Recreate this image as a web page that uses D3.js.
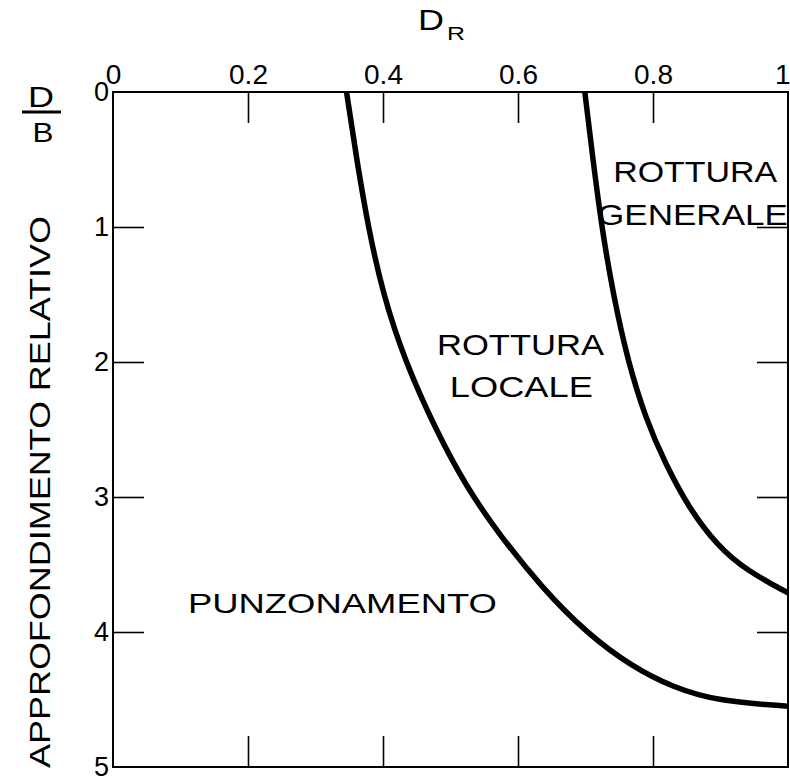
<!DOCTYPE html>
<html>
<head>
<meta charset="utf-8">
<script src="https://cdn.jsdelivr.net/npm/d3@7"></script>
<style>
    body { margin: 0; background: #fff; }
    svg { display: block; font-family: "Liberation Sans", Arial, Helvetica, sans-serif; }
    .curve { fill: none; stroke: #000; stroke-width: 5.5; stroke-linecap: round; }
    .frame { fill: none; stroke: #000; stroke-width: 2; }
    .axis path { display: none; }
    .axis line { stroke: #000; stroke-width: 1.6; }
    .axis text { fill: #000; font-family: "Liberation Sans", Arial, sans-serif; }
</style>
</head>
<body>
<div id="chart"></div>
<script>
// Relative density (D_R) ticks and relative depth (D/B) ticks.
const drTicks = [0, 0.2, 0.4, 0.6, 0.8, 1];
const dbTicks = [0, 1, 2, 3, 4, 5];

// Boundary between punching and local shear failure.
const localDR = [0.346, 0.361, 0.378, 0.400, 0.433, 0.478, 0.524, 0.571, 0.635, 0.702, 0.770, 0.830, 0.894, 1.0];
const localDB = [0, 0.5, 1.0, 1.5, 2.0, 2.5, 2.93, 3.27, 3.67, 4.01, 4.26, 4.41, 4.51, 4.55];

// Boundary between local and general shear failure.
const generalDR = [0.699, 0.711, 0.724, 0.741, 0.763, 0.790, 0.818, 0.853, 0.895, 0.940, 1.0];
const generalDB = [0, 0.5, 1.0, 1.5, 2.0, 2.43, 2.75, 3.08, 3.36, 3.55, 3.71];

// Region names.
const regionNames = ["PUNZONAMENTO", "ROTTURA", "LOCALE", "ROTTURA", "GENERALE"];

const width = 790;
const height = 781;
const margin = { top: 92, left: 113, right: 2, bottom: 14 };

const x = d3.scaleLinear()
    .domain([0, 1])
    .range([margin.left, width - margin.right]);

const y = d3.scaleLinear()
    .domain([0, 5])
    .range([margin.top, height - margin.bottom]);

const svg = d3.select("#chart").append("svg")
    .attr("width", width)
    .attr("height", height);

svg.append("rect")
    .attr("width", width)
    .attr("height", height)
    .attr("fill", "#fff");

// Frame of the plot.
svg.append("rect")
    .attr("class", "frame")
    .attr("x", x(0))
    .attr("y", y(0))
    .attr("width", x(1) - x(0))
    .attr("height", y(5) - y(0));

const tickLen = 31;
const innerDR = drTicks.slice(1, -1);
const innerDB = dbTicks.slice(1, -1);

// Top axis with labels, ticks pointing inward.
svg.append("g")
    .attr("class", "axis")
    .attr("transform", "translate(0," + y(0) + ")")
    .call(d3.axisTop(x).tickValues(drTicks).tickSize(-tickLen).tickPadding(8)
        .tickFormat(d => d === 0 || d === 1 ? d3.format("d")(d) : d3.format(".1f")(d)))
    .call(g => g.selectAll(".tick line").filter(d => d === 0 || d === 1).remove())
    .call(g => g.selectAll(".tick text").filter(d => d === 1)
        .attr("text-anchor", "end").attr("x", 2))
    .selectAll("text")
    .style("font-size", "28px");

// Bottom axis: ticks only.
svg.append("g")
    .attr("class", "axis")
    .attr("transform", "translate(0," + y(5) + ")")
    .call(d3.axisBottom(x).tickValues(innerDR).tickSize(-tickLen).tickFormat(""));

// Left axis with labels.
svg.append("g")
    .attr("class", "axis")
    .attr("transform", "translate(" + x(0) + ",0)")
    .call(d3.axisLeft(y).tickValues(dbTicks).tickSize(-tickLen).tickPadding(4)
        .tickFormat(d3.format("d")))
    .call(g => g.selectAll(".tick line").filter(d => d === 0 || d === 5).remove())
    .selectAll("text")
    .style("font-size", "27px");

// Right axis: ticks only.
svg.append("g")
    .attr("class", "axis")
    .attr("transform", "translate(" + x(1) + ",0)")
    .call(d3.axisRight(y).tickValues(innerDB).tickSize(-tickLen).tickFormat(""));

// Boundary curves.
const line = d3.line()
    .x(d => x(d[0]))
    .y(d => y(d[1]))
    .curve(d3.curveBasis);

svg.append("defs").append("clipPath")
    .attr("id", "plot-clip")
    .append("rect")
    .attr("x", x(0))
    .attr("y", y(0))
    .attr("width", x(1) - x(0))
    .attr("height", y(5) - y(0));

[[localDR, localDB], [generalDR, generalDB]].forEach(function (pair) {
    svg.append("path")
        .attr("class", "curve")
        .attr("clip-path", "url(#plot-clip)")
        .attr("d", line(d3.zip(pair[0], pair[1])));
});

// Region labels: anchor (start, baseline) in data units, fitted width in px.
const regionPlace = [
    { dr: 0.111, db: 3.86, w: 309, size: 28 },
    { dr: 0.480, db: 1.949, w: 167, size: 29 },
    { dr: 0.499, db: 2.262, w: 143, size: 29 },
    { dr: 0.741, db: 0.664, w: 164, size: 29 },
    { dr: 0.717, db: 0.985, w: 191, size: 29 }
];

regionNames.forEach(function (name, i) {
    const p = regionPlace[i];
    svg.append("text")
        .attr("x", x(p.dr))
        .attr("y", y(p.db))
        .attr("textLength", p.w)
        .attr("lengthAdjust", "spacingAndGlyphs")
        .style("font-size", p.size + "px")
        .text(name);
});

// X-axis title: D with subscript R.
svg.append("text")
    .attr("x", 418)
    .attr("y", 30)
    .attr("textLength", 26)
    .attr("lengthAdjust", "spacingAndGlyphs")
    .style("font-size", "30px")
    .text("D");

svg.append("text")
    .attr("x", 447)
    .attr("y", 40)
    .attr("textLength", 18)
    .attr("lengthAdjust", "spacingAndGlyphs")
    .style("font-size", "19px")
    .text("R");

// Y-axis title D/B as a fraction.
svg.append("text")
    .attr("x", 41)
    .attr("y", 107)
    .attr("text-anchor", "middle")
    .attr("textLength", 26)
    .attr("lengthAdjust", "spacingAndGlyphs")
    .style("font-size", "29px")
    .text("D");

svg.append("line")
    .attr("x1", 22)
    .attr("x2", 61)
    .attr("y1", 112)
    .attr("y2", 112)
    .attr("stroke", "#000")
    .attr("stroke-width", 3);

svg.append("text")
    .attr("x", 43)
    .attr("y", 142)
    .attr("text-anchor", "middle")
    .attr("textLength", 21)
    .attr("lengthAdjust", "spacingAndGlyphs")
    .style("font-size", "28px")
    .text("B");

// Rotated y-axis title.
svg.append("text")
    .attr("transform", "translate(50," + 492 + ") rotate(-90)")
    .attr("text-anchor", "middle")
    .attr("textLength", 552)
    .attr("lengthAdjust", "spacingAndGlyphs")
    .style("font-size", "30px")
    .text("APPROFONDIMENTO RELATIVO");
</script>
</body>
</html>
